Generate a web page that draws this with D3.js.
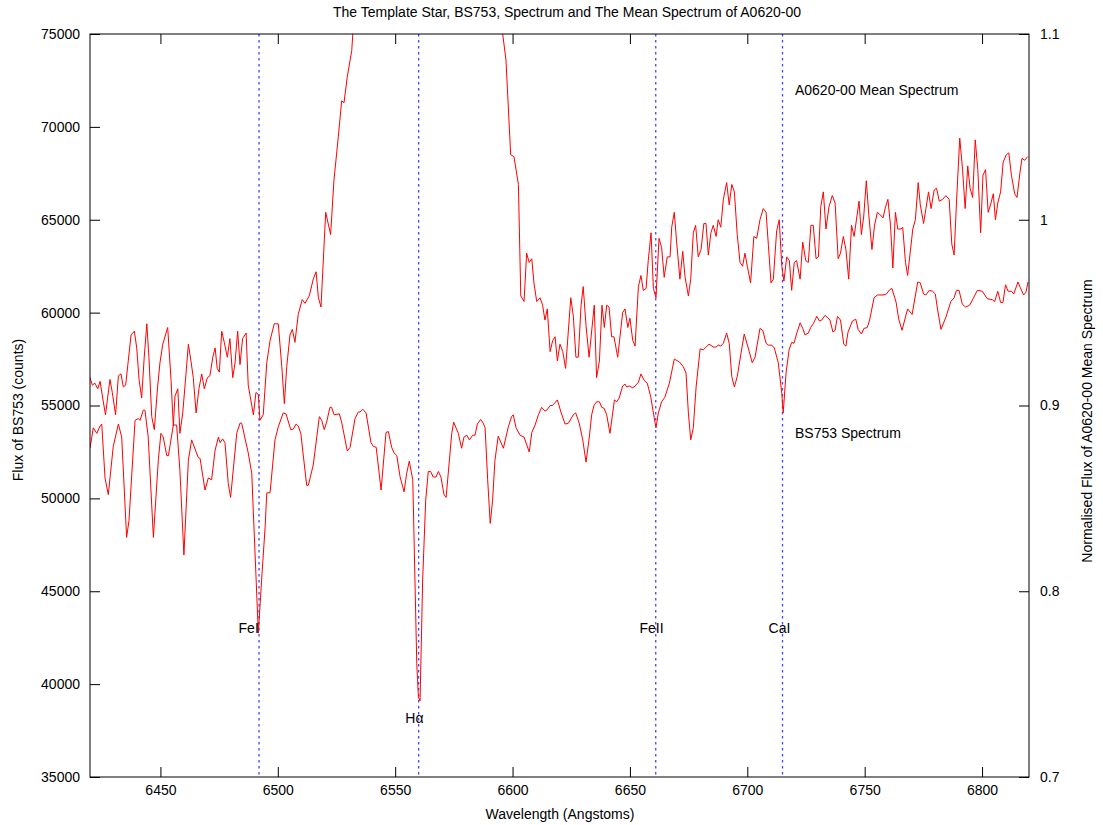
<!DOCTYPE html>
<html>
<head>
<meta charset="utf-8">
<script src="https://cdn.jsdelivr.net/npm/d3@7"></script>
<style>
  body { margin: 0; background: #fff; }
  svg { display: block; font-family: "Liberation Sans", Arial, Helvetica, sans-serif; }
  .axis text { font-size: 14px; fill: #000; font-family: "Liberation Sans", Arial, sans-serif; }
  .axis line { stroke: #000; stroke-width: 1; }
  .axis path { display: none; }
</style>
</head>
<body>
<svg id="chart" width="1103" height="825"></svg>
<script>
// BS753 template spectrum: [wavelength (A), flux (counts)]
const bs753 = [[6420,52700],[6421.4,53800],[6422.9,53500],[6424.3,53900],[6425.0,54000],[6426.4,51100],[6427.8,50200],[6429.9,52800],[6432.1,54000],[6433.5,53300],[6435.6,47900],[6436.6,48800],[6439.2,54200],[6440.6,54300],[6441.3,54200],[6442.7,54750],[6443.4,54750],[6444.8,53300],[6447.0,47900],[6449.1,52050],[6450.2,53500],[6451.2,53300],[6452.7,52300],[6453.4,52300],[6455.5,53950],[6456.9,53950],[6458.3,51500],[6460.0,46950],[6461.9,52050],[6463.3,53150],[6466.1,52200],[6466.9,52150],[6469.0,50450],[6470.4,51100],[6471.8,51000],[6473.3,52600],[6474.7,53300],[6475.4,53000],[6476.5,53200],[6477.5,53000],[6478.9,50800],[6479.9,50050],[6482.5,53500],[6483.9,54050],[6484.6,54050],[6487.4,52450],[6488.9,51350],[6491.7,42750],[6493.1,45600],[6494.6,48450],[6495.3,50300],[6496.7,50300],[6498.8,53150],[6500.2,53850],[6502.3,54600],[6503.5,54550],[6505.5,53700],[6506.6,53730],[6507.8,54000],[6508.7,53900],[6509.8,53500],[6512.3,50700],[6513.0,50700],[6515.1,51800],[6517.7,54400],[6518.7,54200],[6519.8,53700],[6520.8,54100],[6522.2,54900],[6522.9,54900],[6524.0,54500],[6526.2,54550],[6527.2,54100],[6529.6,52550],[6530.8,52750],[6532.9,54300],[6534.3,54650],[6535.0,54650],[6536.2,54800],[6537.6,54600],[6539.7,53000],[6540.7,52800],[6541.9,52750],[6544.0,50450],[6546.1,53550],[6547.1,53600],[6548.5,52750],[6549.5,52450],[6550.7,52300],[6552.1,51150],[6553.8,50350],[6554.9,51350],[6556.0,52000],[6557.5,51000],[6559.2,41100],[6559.9,39300],[6560.6,39100],[6561.7,45600],[6563.0,49900],[6564.1,51450],[6565.1,51450],[6566.2,51150],[6567.4,51150],[6568.4,51450],[6569.5,51150],[6570.8,50200],[6571.7,50050],[6574.1,53500],[6574.9,54100],[6576.9,53500],[6578.3,52700],[6579.3,53300],[6580.5,53400],[6581.6,53150],[6583.0,53400],[6584.0,53400],[6585.0,54000],[6586.4,54250],[6587.5,54050],[6588.3,53800],[6589.4,51000],[6590.5,48650],[6591.5,49900],[6592.5,52050],[6593.9,53350],[6596.1,52700],[6598.2,53850],[6599.6,54400],[6600.3,54500],[6601.5,53800],[6603.2,53400],[6604.9,53300],[6607.1,52500],[6608.2,53550],[6609.6,53950],[6611.0,54500],[6612.4,54900],[6613.8,54700],[6614.6,54750],[6616.0,55000],[6617.0,55000],[6619.1,55300],[6620.6,54650],[6622.4,54000],[6623.8,54050],[6625.9,54500],[6626.9,54600],[6628.4,54050],[6629.9,53150],[6631.3,51950],[6632.7,53300],[6633.7,54500],[6634.7,55000],[6635.8,55200],[6637.0,55200],[6638.0,54900],[6639.0,54850],[6640.1,54500],[6641.5,53500],[6643.4,55300],[6644.4,55200],[6645.4,55400],[6646.9,56050],[6647.9,56150],[6648.6,56000],[6649.7,56050],[6651.2,55950],[6652.2,56050],[6653.6,56250],[6654.7,56700],[6656.1,56350],[6657.4,56200],[6658.9,55450],[6660.0,54600],[6661.1,53800],[6662.1,54600],[6663.5,55200],[6664.9,55450],[6666.8,56200],[6668.9,57500],[6671.0,57350],[6672.7,57100],[6673.9,56750],[6674.9,54600],[6675.9,53150],[6677.0,53800],[6678.2,56000],[6679.9,58050],[6681.3,58000],[6683.7,58300],[6685.5,58150],[6686.7,58150],[6687.7,58250],[6688.7,58200],[6689.8,58350],[6691.2,58900],[6692.3,58350],[6693.4,56550],[6694.5,56000],[6695.7,56550],[6697.3,57800],[6698.7,58850],[6700.4,58100],[6702.1,57300],[6703.3,57600],[6705.4,59150],[6706.6,59050],[6708.0,58350],[6709.0,58250],[6710.4,58250],[6711.5,58100],[6713.2,57300],[6714.7,55650],[6715.3,54600],[6716.5,56750],[6717.8,58000],[6718.9,58400],[6719.9,58350],[6721.1,58900],[6722.5,59450],[6723.6,59150],[6724.6,58800],[6726.0,58900],[6727.0,59200],[6728.1,59400],[6729.6,59800],[6730.7,59550],[6731.7,59600],[6733.1,59850],[6734.1,59750],[6735.2,59600],[6736.5,58950],[6737.4,59050],[6738.4,59800],[6739.7,59600],[6741.1,58300],[6742.0,58200],[6742.9,58950],[6744.8,59550],[6746.2,59650],[6747.2,59100],[6748.6,58850],[6749.7,59150],[6751.1,59200],[6752.1,59600],[6754.0,60800],[6755.4,60950],[6757.8,60950],[6759.2,61000],[6760.8,61250],[6761.6,61300],[6763.4,60550],[6764.5,59650],[6765.9,59050],[6768.3,60200],[6770.2,59900],[6772.6,61650],[6773.7,61600],[6775.1,61000],[6776.1,60950],[6777.5,61200],[6778.9,61150],[6780.1,61000],[6781.0,60200],[6782.5,59100],[6784.6,59750],[6786.7,60600],[6788.1,60800],[6789.1,61200],[6790.2,61200],[6791.6,60450],[6793.0,60300],[6794.7,60400],[6796.2,60750],[6798.0,61200],[6800.1,61150],[6802.2,60750],[6804.3,60700],[6805.4,60600],[6806.7,61150],[6807.9,60550],[6808.9,60550],[6810.0,61500],[6811.1,61150],[6812.5,61150],[6813.5,61000],[6815.3,61650],[6816.3,61350],[6817.7,60950],[6818.7,61100],[6819.6,61650]];

// A0620-00 mean spectrum: [wavelength (A), normalised flux]
const a0620 = [[6420,0.915],[6421.0,0.911],[6422.1,0.912],[6423.3,0.909],[6424.3,0.913],[6425.4,0.904],[6426.6,0.895],[6428.5,0.914],[6429.5,0.907],[6430.9,0.895],[6432.1,0.916],[6433.2,0.917],[6434.2,0.910],[6435.2,0.911],[6436.3,0.924],[6437.5,0.938],[6438.9,0.940],[6439.9,0.931],[6440.9,0.914],[6442.0,0.904],[6443.1,0.926],[6444.2,0.944],[6445.1,0.926],[6446.3,0.894],[6447.4,0.887],[6448.8,0.910],[6449.8,0.923],[6451.0,0.933],[6453.1,0.942],[6454.5,0.914],[6455.5,0.889],[6456.2,0.905],[6457.4,0.909],[6458.3,0.885],[6459.5,0.896],[6460.9,0.917],[6461.9,0.933],[6463.0,0.924],[6464.0,0.915],[6465.2,0.896],[6466.4,0.909],[6467.6,0.917],[6468.7,0.909],[6470.0,0.915],[6471.1,0.916],[6472.3,0.926],[6473.3,0.931],[6474.2,0.920],[6475.1,0.918],[6476.1,0.940],[6477.2,0.934],[6478.5,0.926],[6479.6,0.936],[6480.8,0.915],[6481.8,0.923],[6482.9,0.940],[6483.9,0.922],[6485.0,0.936],[6486.5,0.939],[6487.4,0.911],[6489.6,0.895],[6490.7,0.907],[6491.7,0.906],[6492.4,0.892],[6493.8,0.895],[6495.3,0.923],[6496.7,0.935],[6498.5,0.944],[6500.2,0.944],[6501.7,0.921],[6502.8,0.901],[6503.8,0.921],[6505.2,0.938],[6506.2,0.941],[6507.3,0.934],[6508.7,0.949],[6510.4,0.957],[6511.6,0.955],[6513.4,0.959],[6515.1,0.968],[6516.3,0.972],[6517.3,0.958],[6518.4,0.953],[6520.4,1.004],[6522.5,0.992],[6523.9,1.021],[6525.8,1.045],[6527.2,1.064],[6528.2,1.063],[6529.6,1.077],[6531.5,1.091],[6531.9,1.099],[6535,1.16],[6540,1.26],[6545,1.36],[6550,1.43],[6555,1.46],[6560,1.45],[6565,1.42],[6570,1.37],[6575,1.31],[6580,1.24],[6585,1.18],[6590,1.14],[6594,1.115],[6595.8,1.100],[6597.2,1.086],[6599.2,1.035],[6600.6,1.034],[6602.5,1.019],[6603.5,0.959],[6604.9,0.956],[6606.0,0.982],[6607.1,0.977],[6608.2,0.979],[6609.1,0.966],[6610.3,0.956],[6611.7,0.958],[6612.8,0.954],[6613.8,0.946],[6614.8,0.952],[6616.0,0.929],[6617.1,0.935],[6618.1,0.937],[6619.1,0.924],[6620.2,0.933],[6621.4,0.929],[6622.6,0.920],[6624.8,0.958],[6625.9,0.948],[6627.0,0.926],[6628.0,0.926],[6629.2,0.954],[6630.1,0.964],[6631.3,0.943],[6632.6,0.926],[6634.8,0.954],[6635.8,0.915],[6637.0,0.924],[6638.1,0.954],[6639.1,0.942],[6640.1,0.954],[6641.1,0.953],[6642.2,0.937],[6643.2,0.937],[6644.8,0.926],[6646.9,0.950],[6647.9,0.952],[6649.1,0.942],[6650.0,0.947],[6651.2,0.935],[6652.2,0.932],[6653.6,0.964],[6654.7,0.970],[6655.7,0.962],[6656.9,0.963],[6657.8,0.978],[6659.0,0.993],[6660.0,0.963],[6661.1,0.958],[6662.4,0.990],[6663.5,0.985],[6664.6,0.969],[6665.9,0.980],[6667.1,0.980],[6667.8,0.996],[6668.9,1.004],[6669.9,0.988],[6671.3,0.968],[6672.5,0.983],[6673.5,0.969],[6674.9,0.959],[6675.9,0.968],[6677.0,0.993],[6678.0,0.997],[6679.1,0.980],[6680.3,0.984],[6681.5,0.998],[6682.4,0.998],[6683.4,0.981],[6684.5,0.993],[6685.5,0.997],[6686.7,0.991],[6687.6,1.000],[6688.7,0.996],[6689.8,1.011],[6691.2,1.020],[6692.3,1.008],[6693.4,1.019],[6694.5,1.015],[6695.7,0.992],[6696.9,0.977],[6698.0,0.975],[6699.0,0.982],[6700.0,0.975],[6701.4,0.966],[6702.8,0.991],[6704.0,0.990],[6705.4,1.000],[6706.8,1.006],[6708.0,1.004],[6709.0,0.986],[6710.1,0.966],[6711.1,0.968],[6712.5,0.994],[6713.6,1.000],[6714.7,0.975],[6715.6,0.967],[6716.8,0.980],[6717.9,0.978],[6718.9,0.962],[6720.0,0.977],[6721.0,0.978],[6722.5,0.968],[6723.6,0.988],[6724.9,0.978],[6726.0,0.977],[6727.1,0.997],[6728.1,0.997],[6729.3,0.979],[6730.3,0.980],[6731.3,1.007],[6732.4,1.015],[6733.5,0.995],[6734.8,1.007],[6736.2,1.013],[6737.4,1.009],[6738.7,0.979],[6739.7,0.982],[6740.9,0.991],[6742.0,0.984],[6743.2,0.968],[6744.4,0.997],[6745.5,0.991],[6747.6,1.010],[6748.6,0.992],[6749.6,1.002],[6750.7,1.021],[6751.8,1.002],[6753.1,0.984],[6754.2,0.997],[6755.4,1.004],[6756.4,1.003],[6757.8,1.001],[6758.9,1.007],[6759.9,1.011],[6761.0,0.997],[6762.0,0.974],[6763.1,1.004],[6764.1,0.995],[6765.5,0.995],[6766.2,0.996],[6767.4,0.977],[6768.3,0.970],[6770.5,0.995],[6771.6,1.000],[6772.8,1.020],[6773.7,1.008],[6775.1,0.998],[6776.1,1.006],[6777.2,1.015],[6778.3,1.006],[6779.6,1.016],[6780.6,1.017],[6781.8,1.010],[6783.2,1.011],[6784.6,1.013],[6786.0,1.011],[6787.1,0.987],[6788.1,0.981],[6789.1,1.009],[6790.5,1.044],[6791.7,1.027],[6792.8,1.006],[6793.9,1.029],[6794.9,1.017],[6796.0,1.012],[6797.1,1.043],[6798.2,1.027],[6799.4,0.993],[6800.4,1.024],[6801.5,1.027],[6802.6,1.004],[6803.6,1.008],[6804.8,1.014],[6805.7,1.000],[6806.7,1.009],[6807.9,1.015],[6809.0,1.031],[6810.3,1.035],[6811.4,1.036],[6812.5,1.024],[6813.9,1.014],[6814.9,1.012],[6816.1,1.025],[6817.0,1.033],[6818.2,1.032],[6819.4,1.034]];

// Identified absorption lines and their label anchors [wavelength, counts]
const lineWaves = [6492, 6560, 6661, 6715];
const lineNames = ["FeI", "H\u03b1", "FeII", "CaI"];
const lineLabelAt = [[6487.6, 43000], [6558.2, 38150], [6659.2, 43000], [6713.7, 43000]];

// Series captions [wavelength, counts]
const seriesNames = ["A0620-00 Mean Spectrum", "BS753 Spectrum"];
const seriesLabelAt = [[6720.3, 72000], [6720.3, 53500]];

// Axis ranges and ticks
const xDomain = [6420, 6820];
const yLeftDomain = [35000, 75000];
const yRightDomain = [0.7, 1.1];
const xTicks = [6450, 6500, 6550, 6600, 6650, 6700, 6750, 6800];
const yLeftTicks = [35000, 40000, 45000, 50000, 55000, 60000, 65000, 70000, 75000];
const yRightTicks = [0.7, 0.8, 0.9, 1.0, 1.1];

const FS = 14;
const svg = d3.select("#chart");
const L = 90, R = 1029, T = 34, B = 777;

const x = d3.scaleLinear().domain(xDomain).range([L, R]);
const yL = d3.scaleLinear().domain(yLeftDomain).range([B, T]);
const yR = d3.scaleLinear().domain(yRightDomain).range([B, T]);

svg.append("defs").append("clipPath").attr("id", "plotClip")
  .append("rect").attr("x", L).attr("y", T).attr("width", R - L).attr("height", B - T);

// Spectral line markers
const markers = svg.append("g");
markers.selectAll("line").data(lineWaves).join("line")
  .attr("x1", d => x(d)).attr("x2", d => x(d))
  .attr("y1", T).attr("y2", B)
  .attr("stroke", "#4444ff").attr("stroke-width", 1.3)
  .attr("stroke-dasharray", "2.5,3.5");

// Spectra
const plot = svg.append("g").attr("clip-path", "url(#plotClip)");
const lineL = d3.line().x(d => x(d[0])).y(d => yL(d[1]));
const lineR = d3.line().x(d => x(d[0])).y(d => yR(d[1]));
plot.append("path").datum(bs753).attr("d", lineL)
  .attr("fill", "none").attr("stroke", "#ff0000").attr("stroke-width", 1);
plot.append("path").datum(a0620).attr("d", lineR)
  .attr("fill", "none").attr("stroke", "#ff0000").attr("stroke-width", 1);

// Axes with inward ticks
const fmtR = d => String(+d.toFixed(1));
svg.append("g").attr("class", "axis").attr("transform", `translate(0,${B})`)
  .call(d3.axisBottom(x).tickValues(xTicks).tickSize(-10).tickPadding(8).tickFormat(d3.format("d")));
svg.append("g").attr("class", "axis").attr("transform", `translate(0,${T})`)
  .call(d3.axisTop(x).tickValues(xTicks).tickSize(-10).tickFormat(""));
svg.append("g").attr("class", "axis").attr("transform", `translate(${L},0)`)
  .call(d3.axisLeft(yL).tickValues(yLeftTicks).tickSize(-10).tickPadding(10).tickFormat(d3.format("d")));
svg.append("g").attr("class", "axis").attr("transform", `translate(${R},0)`)
  .call(d3.axisRight(yR).tickValues(yRightTicks).tickSize(-10).tickPadding(11).tickFormat(fmtR));

// Frame
svg.append("rect").attr("x", L).attr("y", T).attr("width", R - L).attr("height", B - T)
  .attr("fill", "none").attr("stroke", "#000").attr("stroke-width", 1);

// Line labels
svg.append("g").selectAll("text").data(lineNames).join("text")
  .attr("x", (d, i) => x(lineLabelAt[i][0]))
  .attr("y", (d, i) => yL(lineLabelAt[i][1]) + 5)
  .attr("text-anchor", "middle").attr("font-size", FS).text(d => d);

// Series captions
svg.append("g").selectAll("text").data(seriesNames).join("text")
  .attr("x", (d, i) => x(seriesLabelAt[i][0]))
  .attr("y", (d, i) => yL(seriesLabelAt[i][1]) + 5)
  .attr("font-size", FS).text(d => d);

// Titles
svg.append("text").attr("x", 567).attr("y", 17).attr("text-anchor", "middle")
  .attr("font-size", FS).text("The Template Star, BS753, Spectrum and The Mean Spectrum of A0620-00");
svg.append("text").attr("x", 560).attr("y", 819).attr("text-anchor", "middle")
  .attr("font-size", FS).text("Wavelength (Angstoms)");
svg.append("text").attr("transform", "translate(23,410) rotate(-90)").attr("text-anchor", "middle")
  .attr("font-size", FS).text("Flux of BS753 (counts)");
svg.append("text").attr("transform", "translate(1092,421) rotate(-90)").attr("text-anchor", "middle")
  .attr("font-size", FS).text("Normalised Flux of A0620-00 Mean Spectrum");
</script>
</body>
</html>
